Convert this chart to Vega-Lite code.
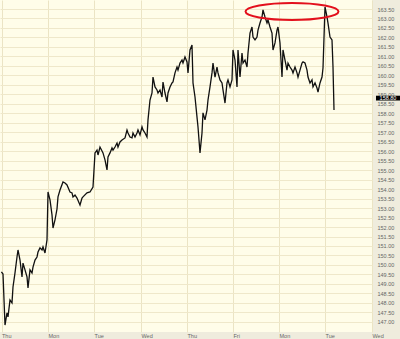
{
  "$schema": "https://vega.github.io/schema/vega-lite/v6.json",
  "width": 372,
  "height": 332,
  "autosize": {"type": "none"},
  "padding": {"left": 0, "top": 0, "right": 28, "bottom": 7},
  "background": "#efecdd",
  "config": {
    "view": {"fill": "#fffde9", "stroke": null},
    "font": "Liberation Sans"
  },
  "datasets": {
    "prices": [
      {"bar":0.4,"price":149.63},{"bar":2,"price":149.52},{"bar":4,"price":146.83},{"bar":6,"price":147.47},{"bar":7,"price":147.26},{"bar":9,"price":148.15},{"bar":11,"price":148.0},{"bar":12,"price":148.84},{"bar":14,"price":149.58},{"bar":16,"price":150.42},{"bar":17,"price":150.79},{"bar":19,"price":150.26},{"bar":21,"price":149.37},{"bar":22,"price":150.1},{"bar":24,"price":149.74},{"bar":26,"price":149.37},{"bar":27,"price":148.79},{"bar":29,"price":149.74},{"bar":31,"price":149.58},{"bar":32,"price":149.89},{"bar":34,"price":150.26},{"bar":36,"price":150.42},{"bar":37,"price":150.68},{"bar":39,"price":150.9},{"bar":41,"price":150.79},{"bar":42,"price":150.95},{"bar":44,"price":150.63},{"bar":46,"price":151.32},{"bar":47,"price":153.85},{"bar":49,"price":153.43},{"bar":51,"price":152.64},{"bar":52,"price":151.95},{"bar":54,"price":152.38},{"bar":56,"price":152.95},{"bar":57,"price":153.59},{"bar":59,"price":153.95},{"bar":62,"price":154.38},{"bar":64,"price":154.32},{"bar":66,"price":154.22},{"bar":69,"price":153.85},{"bar":71,"price":153.8},{"bar":72,"price":153.59},{"bar":74,"price":153.69},{"bar":76,"price":153.53},{"bar":79,"price":153.16},{"bar":81,"price":153.53},{"bar":82,"price":153.59},{"bar":86,"price":153.8},{"bar":89,"price":153.85},{"bar":92,"price":154.11},{"bar":94,"price":155.91},{"bar":96,"price":156.06},{"bar":97,"price":155.8},{"bar":99,"price":156.22},{"bar":102,"price":155.91},{"bar":104,"price":155.54},{"bar":106,"price":155.01},{"bar":107,"price":155.7},{"bar":109,"price":155.91},{"bar":111,"price":156.17},{"bar":112,"price":156.06},{"bar":114,"price":156.22},{"bar":116,"price":156.43},{"bar":117,"price":156.22},{"bar":119,"price":156.49},{"bar":121,"price":156.59},{"bar":124,"price":156.7},{"bar":126,"price":157.12},{"bar":127,"price":156.96},{"bar":129,"price":156.75},{"bar":131,"price":156.7},{"bar":132,"price":156.96},{"bar":134,"price":156.75},{"bar":136,"price":156.96},{"bar":137,"price":157.12},{"bar":139,"price":156.86},{"bar":141,"price":157.28},{"bar":142,"price":157.12},{"bar":144,"price":156.96},{"bar":146,"price":156.75},{"bar":147,"price":157.65},{"bar":149,"price":158.7},{"bar":151,"price":159.07},{"bar":152,"price":159.91},{"bar":154,"price":159.39},{"bar":156,"price":159.23},{"bar":157,"price":159.07},{"bar":159,"price":159.23},{"bar":161,"price":158.86},{"bar":162,"price":159.65},{"bar":164,"price":159.07},{"bar":166,"price":158.6},{"bar":167,"price":159.07},{"bar":169,"price":159.39},{"bar":171,"price":159.6},{"bar":172,"price":159.65},{"bar":174,"price":160.13},{"bar":176,"price":160.44},{"bar":177,"price":160.28},{"bar":179,"price":160.65},{"bar":181,"price":160.81},{"bar":182,"price":160.65},{"bar":184,"price":160.97},{"bar":186,"price":160.71},{"bar":187,"price":160.13},{"bar":189,"price":161.34},{"bar":191,"price":161.6},{"bar":192,"price":159.6},{"bar":194,"price":158.86},{"bar":196,"price":157.8},{"bar":197,"price":157.28},{"bar":199,"price":155.91},{"bar":201,"price":156.96},{"bar":202,"price":158.02},{"bar":204,"price":157.65},{"bar":206,"price":158.17},{"bar":207,"price":158.7},{"bar":209,"price":159.39},{"bar":211,"price":160.13},{"bar":212,"price":160.65},{"bar":214,"price":159.91},{"bar":216,"price":160.44},{"bar":217,"price":160.13},{"bar":219,"price":159.76},{"bar":221,"price":159.6},{"bar":222,"price":159.23},{"bar":224,"price":158.54},{"bar":226,"price":159.6},{"bar":227,"price":159.76},{"bar":229,"price":159.39},{"bar":231,"price":159.76},{"bar":232,"price":161.34},{"bar":234,"price":160.81},{"bar":236,"price":159.39},{"bar":237,"price":161.34},{"bar":239,"price":159.91},{"bar":241,"price":161.18},{"bar":242,"price":160.65},{"bar":244,"price":160.81},{"bar":246,"price":160.44},{"bar":247,"price":161.18},{"bar":249,"price":162.23},{"bar":251,"price":162.55},{"bar":252,"price":162.02},{"bar":254,"price":161.87},{"bar":256,"price":162.02},{"bar":257,"price":162.39},{"bar":259,"price":162.76},{"bar":261,"price":163.08},{"bar":262,"price":163.45},{"bar":264,"price":163.08},{"bar":266,"price":162.76},{"bar":267,"price":162.92},{"bar":269,"price":162.55},{"bar":271,"price":162.23},{"bar":272,"price":161.34},{"bar":274,"price":161.71},{"bar":276,"price":162.39},{"bar":277,"price":162.55},{"bar":279,"price":161.71},{"bar":281,"price":159.91},{"bar":282,"price":161.34},{"bar":284,"price":160.81},{"bar":286,"price":160.28},{"bar":287,"price":160.65},{"bar":289,"price":160.44},{"bar":291,"price":160.28},{"bar":292,"price":160.13},{"bar":294,"price":160.44},{"bar":296,"price":160.13},{"bar":297,"price":159.91},{"bar":299,"price":160.28},{"bar":301,"price":160.65},{"bar":302,"price":160.71},{"bar":304,"price":160.65},{"bar":306,"price":160.28},{"bar":307,"price":159.91},{"bar":309,"price":159.6},{"bar":311,"price":159.76},{"bar":312,"price":159.39},{"bar":314,"price":159.6},{"bar":316,"price":159.33},{"bar":317,"price":159.12},{"bar":319,"price":159.6},{"bar":321,"price":159.91},{"bar":322,"price":160.39},{"bar":324,"price":163.61},{"bar":326,"price":163.08},{"bar":327,"price":162.76},{"bar":329,"price":162.02},{"bar":331,"price":161.87},{"bar":332,"price":160.44},{"bar":333,"price":158.17}
    ],
    "highlight": [{"bar": 291, "price": 163.37}],
    "last": [{"bar": 387, "price": 158.8, "label": "158.80"}]
  },
  "layer": [
    {
      "data": {"name": "prices"},
      "mark": {"type": "line", "color": "#111111", "strokeWidth": 1.3, "interpolate": "linear"},
      "encoding": {
        "x": {
          "field": "bar", "type": "quantitative",
          "scale": {"domain": [-1, 371], "nice": false, "zero": false},
          "axis": {
            "title": null, "orient": "bottom", "tickCount": 20,
            "values": [0.5, 47, 93, 140, 186, 232, 278, 324, 371],
            "labelExpr": "datum.value < 10 ? 'Thu' : datum.value < 60 ? 'Mon' : datum.value < 100 ? 'Tue' : datum.value < 150 ? 'Wed' : datum.value < 200 ? 'Thu' : datum.value < 250 ? 'Fri' : datum.value < 300 ? 'Mon' : datum.value < 350 ? 'Tue' : 'Wed'",
            "grid": true, "gridColor": "#ebe4c4", "gridWidth": 1,
            "ticks": false, "domain": false,
            "labelAlign": "left", "labelBaseline": "middle", "labelPadding": 3, "labelDx": 2,
            "labelFontSize": 5.5, "labelColor": "#666666", "labelFlush": false, "labelOverlap": false
          }
        },
        "y": {
          "field": "price", "type": "quantitative",
          "scale": {"domain": [146.464, 163.975], "nice": false, "zero": false},
          "axis": {
            "title": null, "orient": "right", "tickCount": 60,
            "values": [147, 147.5, 148, 148.5, 149, 149.5, 150, 150.5, 151, 151.5, 152, 152.5, 153, 153.5, 154, 154.5, 155, 155.5, 156, 156.5, 157, 157.5, 158, 158.5, 159, 159.5, 160, 160.5, 161, 161.5, 162, 162.5, 163, 163.5],
            "format": ".2f",
            "grid": true, "gridColor": "#efe8ca", "gridWidth": 1,
            "ticks": false, "domain": false,
            "labelAlign": "left", "labelBaseline": "middle", "labelPadding": 5,
            "labelFontSize": 5.5, "labelColor": "#666666", "labelOverlap": false, "labelFlush": false
          }
        }
      }
    },
    {
      "data": {"name": "highlight"},
      "mark": {
        "type": "point",
        "shape": "M -1 0 C -1 -0.101 -0.5523 -0.183 0 -0.183 C 0.5523 -0.183 1 -0.101 1 0 C 1 0.101 0.5523 0.183 0 0.183 C -0.5523 0.183 -1 0.101 -1 0 Z",
        "size": 8649, "filled": false, "stroke": "#e3101c", "strokeWidth": 2, "opacity": 1
      },
      "encoding": {
        "x": {"field": "bar", "type": "quantitative"},
        "y": {"field": "price", "type": "quantitative"}
      }
    },
    {
      "data": {"name": "last"},
      "mark": {
        "type": "point",
        "shape": "M -1 -0.2 L 1 -0.2 L 1 0.2 L -1 0.2 Z",
        "size": 576, "filled": true, "fill": "#000000", "stroke": null, "opacity": 1
      },
      "encoding": {
        "x": {"field": "bar", "type": "quantitative"},
        "y": {"field": "price", "type": "quantitative"}
      }
    },
    {
      "data": {"name": "last"},
      "mark": {"type": "text", "color": "#ffffff", "fontSize": 5.5, "align": "center", "baseline": "middle"},
      "encoding": {
        "x": {"field": "bar", "type": "quantitative"},
        "y": {"field": "price", "type": "quantitative"},
        "text": {"field": "label"}
      }
    }
  ]
}
